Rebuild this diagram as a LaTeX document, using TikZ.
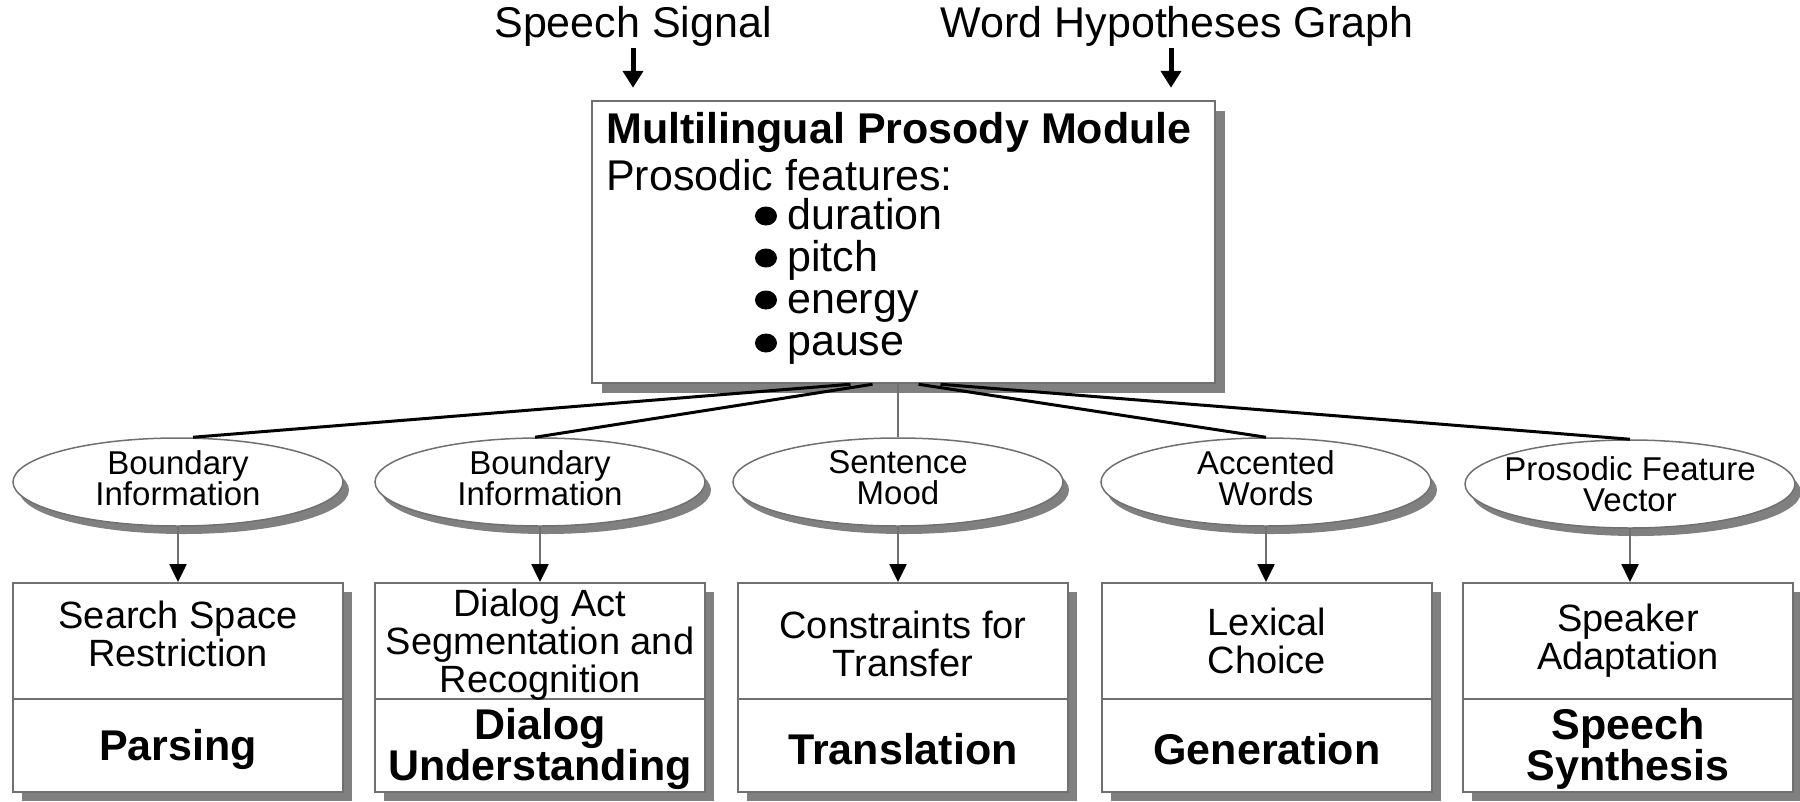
\documentclass[tikz,border=0pt]{standalone}
\usepackage{fontspec}
\setmainfont{Liberation Sans}
\usetikzlibrary{shapes.geometric,arrows.meta,shadows,calc}
\definecolor{shadowgray}{RGB}{128,128,128}
\definecolor{bordergray}{RGB}{112,112,112}
\begin{document}
\begin{tikzpicture}[x=1pt,y=-1pt,
  toplbl/.style={inner sep=2pt, font=\fontsize{43}{48}\selectfont},
  maintxt/.style={anchor=west, inner sep=0pt, font=\fontsize{43}{48}\selectfont},
  itemtxt/.style={anchor=base west, inner sep=0pt, font=\fontsize{43}{48}\selectfont},
  mainbold/.style={anchor=west, inner sep=0pt, font=\fontsize{43}{48}\selectfont\bfseries},
  bulletdot/.style={ellipse, fill=black, inner sep=0pt, minimum width=22pt, minimum height=19pt},
  mainbox/.style={draw=bordergray, line width=2.5pt, fill=white, minimum width=623pt, minimum height=282pt, inner sep=0pt,
    drop shadow={shadow xshift=10pt, shadow yshift=-10pt, opacity=1, fill=shadowgray}},
  ell/.style={ellipse, draw=bordergray, line width=1.5pt, fill=white, minimum width=330pt, minimum height=88pt, inner sep=0pt,
    drop shadow={shadow xshift=6pt, shadow yshift=-8pt, opacity=1, fill=shadowgray}},
  elltxt/.style={align=center, inner sep=0pt, font=\fontsize{33}{31}\selectfont},
  bbox/.style={draw=bordergray, line width=2pt, fill=white, minimum width=330pt, minimum height=209pt, inner sep=0pt,
    drop shadow={shadow xshift=9pt, shadow yshift=-9pt, opacity=1, fill=shadowgray}},
  uptxt/.style={align=center, inner sep=0pt, font=\fontsize{38}{38}\selectfont},
  lowtxt/.style={align=center, inner sep=0pt, font=\fontsize{43}{39}\selectfont\bfseries},
  toparrow/.style={line width=5pt, -{Triangle[width=20pt,length=17pt]}, shorten >=12pt},
  fan/.style={line width=3pt, black},
  downarrow/.style={line width=2.5pt, draw=bordergray, -{Triangle[width=17pt,length=18pt,fill=black,color=black]}}
]
\useasboundingbox (0,0) rectangle (1800,801);

% top labels
\node[toplbl] (ss) at (633,26) {Speech Signal};
\node[toplbl] (wh) at (1177,26) {Word Hypotheses Graph};

% main box
\node[mainbox] (mp) at (903.5,242) {};
\node[mainbold] (mt) at (606,132) {Multilingual Prosody Module};
\node[maintxt] (pf) at (606,175) {Prosodic features:};
\node[bulletdot] (d1) at (766,216) {};
\node[bulletdot] (d2) at (766,258) {};
\node[bulletdot] (d3) at (766,300) {};
\node[bulletdot] (d4) at (766,343) {};
\node[itemtxt] (t1) at (787,229) {duration};
\node[itemtxt] (t2) at (787,271) {pitch};
\node[itemtxt] (t3) at (787,313) {energy};
\node[itemtxt] (t4) at (787,355) {pause};

\draw[toparrow] (ss.south) -- (ss.south |- mp.north);
\draw[toparrow] ([xshift=-6pt]wh.south) -- ([xshift=-6pt]wh.south |- mp.north);

% ellipses
\node[ell] (e1) at (178,482) {};
\node[ell] (e2) at (540,482) {};
\node[ell] (e3) at (898,482) {};
\node[ell] (e4) at (1266,482) {};
\node[ell] (e5) at (1630,484) {};
\node[elltxt] (et1) at ($(e1.center)+(0,-4)$) {Boundary\\Information};
\node[elltxt] (et2) at ($(e2.center)+(0,-4)$) {Boundary\\Information};
\node[elltxt] (et3) at ($(e3.center)+(0,-4)$) {Sentence\\Mood};
\node[elltxt] (et4) at ($(e4.center)+(0,-4)$) {Accented\\Words};
\node[elltxt] (et5) at (e5.center) {Prosodic Feature\\Vector};

% fan connectors
\draw[fan] ([xshift=-53pt]mp.south) -- ([xshift=15pt]e1.north);
\draw[fan] ([xshift=-31pt]mp.south) -- ([xshift=-5pt]e2.north);
\draw[line width=2.5pt, draw=bordergray] (e3.north |- mp.south) -- (e3.north);
\draw[fan] ([xshift=15pt]mp.south) -- (e4.north);
\draw[fan] ([xshift=37pt]mp.south) -- (e5.north);

% bottom boxes
\node[bbox] (b1) at (178,687.5) {};
\node[bbox] (b2) at (540,687.5) {};
\node[bbox] (b3) at (903,687.5) {};
\node[bbox] (b4) at (1267,687.5) {};
\node[bbox] (b5) at (1628,687.5) {};

\foreach \b in {b1,b2,b3,b4,b5}{
  \draw[line width=2pt, draw=bordergray] ($(\b.north west)+(0,117)$) -- ($(\b.north east)+(0,117)$);
}

\node[uptxt] (u1) at ($(b1.north)+(0,52)$) {Search Space\\Restriction};
\node[uptxt] (u2) at ($(b2.north)+(0,63)$) {Dialog Act\\Segmentation and\\Recognition};
\node[uptxt] (u3) at ($(b3.north)+(0,62)$) {Constraints for\\Transfer};
\node[uptxt] (u4) at ($(b4.north)+(0,59)$) {Lexical\\Choice};
\node[uptxt] (u5) at ($(b5.north)+(0,59)$) {Speaker\\Adaptation};

\node[lowtxt] (l1) at ($(b1.south)+(0,-44)$) {Parsing};
\node[lowtxt] (l2) at ($(b2.south)+(0,-44)$) {Dialog\\Understanding};
\node[lowtxt] (l3) at ($(b3.south)+(0,-44)$) {Translation};
\node[lowtxt] (l4) at ($(b4.south)+(0,-44)$) {Generation};
\node[lowtxt] (l5) at ($(b5.south)+(0,-44)$) {Speech\\Synthesis};

% ellipse to box arrows
\draw[downarrow] (e1.south) -- (e1.south |- b1.north);
\draw[downarrow] (e2.south) -- (e2.south |- b2.north);
\draw[downarrow] (e3.south) -- (e3.south |- b3.north);
\draw[downarrow] (e4.south) -- (e4.south |- b4.north);
\draw[downarrow] (e5.south) -- (e5.south |- b5.north);
\end{tikzpicture}
\end{document}
